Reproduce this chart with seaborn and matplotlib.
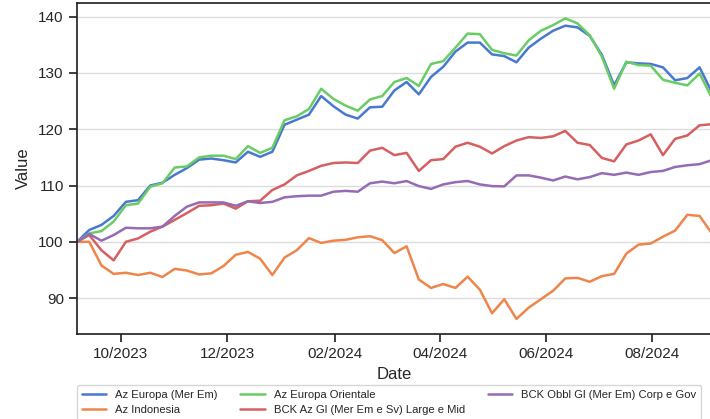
"""Weekly rebased performance of five funds (Sep 2023 - Sep 2024)."""

import matplotlib

matplotlib.use("Agg")
import matplotlib.pyplot as plt  # noqa: E402
import matplotlib.dates as mdates  # noqa: E402
import pandas as pd
import seaborn as sns

dates = pd.date_range("2023-09-06", periods=53, freq="7D")

fund_names = [
    "Az Europa (Mer Em)",
    "Az Indonesia",
    "Az Europa Orientale",
    "BCK Az Gl (Mer Em e Sv) Large e Mid",
    "BCK Obbl Gl (Mer Em) Corp e Gov",
]

europa_mer_em = [
    100.0, 102.1, 103.0, 104.6, 107.1, 107.4, 110.0, 110.5, 111.9, 113.1,
    114.6, 114.8, 114.5, 114.1, 116.0, 115.1, 116.0, 120.8, 121.7, 122.6,
    125.9, 124.1, 122.6, 121.9, 123.9, 124.0, 126.9, 128.4, 126.2, 129.3,
    131.1, 133.8, 135.4, 135.4, 133.3, 133.0, 131.9, 134.5, 136.1, 137.5,
    138.4, 138.1, 136.6, 133.2, 127.8, 131.9, 131.7, 131.6, 131.0, 128.7,
    129.1, 131.0, 126.6,
]
indonesia = [
    100.0, 100.0, 95.8, 94.3, 94.5, 94.1, 94.5, 93.75, 95.2, 94.9,
    94.2, 94.4, 95.7, 97.7, 98.2, 97.0, 94.1, 97.2, 98.5, 100.65,
    99.8, 100.2, 100.35, 100.8, 101.0, 100.3, 98.0, 99.2, 93.3, 91.8,
    92.5, 91.8, 93.8, 91.5, 87.3, 89.8, 86.3, 88.3, 89.8, 91.3,
    93.5, 93.6, 92.9, 93.9, 94.3, 97.9, 99.5, 99.7, 100.9, 102.0,
    104.8, 104.6, 101.5,
]
europa_orientale = [
    100.0, 101.5, 101.9, 103.6, 106.5, 106.8, 109.8, 110.4, 113.2, 113.4,
    115.0, 115.3, 115.3, 114.7, 117.0, 115.8, 116.7, 121.6, 122.3, 123.6,
    127.2, 125.4, 124.2, 123.3, 125.3, 125.9, 128.4, 129.1, 127.7, 131.6,
    132.1, 134.5, 137.0, 136.9, 134.1, 133.5, 133.1, 135.8, 137.5, 138.5,
    139.7, 138.8, 136.7, 132.9, 127.2, 132.0, 131.4, 131.3, 128.8, 128.25,
    127.8, 129.9, 125.6,
]
bck_large_mid = [
    100.0, 101.2, 98.5, 96.7, 100.0, 100.6, 101.8, 102.7, 103.9, 105.1,
    106.4, 106.5, 106.8, 105.9, 107.2, 107.3, 109.2, 110.2, 111.8, 112.6,
    113.5, 114.0, 114.1, 114.0, 116.2, 116.7, 115.4, 115.8, 112.6, 114.5,
    114.7, 116.9, 117.6, 116.9, 115.7, 117.0, 118.0, 118.6, 118.45, 118.75,
    119.7, 117.6, 117.2, 114.9, 114.3, 117.3, 118.0, 119.1, 115.4, 118.3,
    118.9, 120.7, 120.9,
]
bck_obbl = [
    100.0, 101.4, 100.2, 101.2, 102.5, 102.4, 102.4, 102.7, 104.6, 106.25,
    107.0, 107.0, 107.0, 106.4, 107.2, 106.9, 107.1, 107.9, 108.1, 108.2,
    108.2, 108.9, 109.05, 108.9, 110.4, 110.7, 110.4, 110.8, 109.9, 109.4,
    110.2, 110.6, 110.8, 110.2, 109.9, 109.85, 111.8, 111.8, 111.4, 110.9,
    111.6, 111.1, 111.5, 112.2, 111.9, 112.3, 111.9, 112.4, 112.6, 113.3,
    113.6, 113.8, 114.5,
]

series = [europa_mer_em, indonesia, europa_orientale, bck_large_mid, bck_obbl]
df = pd.concat(
    [pd.DataFrame({"Date": dates, "Value": vals, "Fund": name})
     for name, vals in zip(fund_names, series)],
    ignore_index=True,
)

sns.set_theme(style="ticks", context="notebook")
plt.rcParams["font.family"] = ["Liberation Sans", "DejaVu Sans"]

fig = plt.figure(figsize=(7.1, 4.19), dpi=100)
ax = fig.add_axes([0.1085, 0.203, 0.894, 0.789])

palette = dict(zip(fund_names, sns.color_palette("muted", 5)))
sns.lineplot(data=df, x="Date", y="Value", hue="Fund", hue_order=fund_names,
             palette=palette, linewidth=1.8, ax=ax)

ax.set_xlim(dates[0], dates[-1])
ax.grid(axis="y", color="#dcdcdc", linewidth=1)
ax.xaxis.set_major_locator(mdates.MonthLocator(bymonth=[2, 4, 6, 8, 10, 12]))
ax.xaxis.set_major_formatter(mdates.DateFormatter("%m/%Y"))
ax.yaxis.labelpad = 5

handles, labels = ax.get_legend_handles_labels()
ax.legend(handles, labels, ncol=3, loc="upper left", bbox_to_anchor=(0, -0.155),
          borderaxespad=0, fontsize=8.1, frameon=True, handlelength=2.2,
          columnspacing=2.0)

fig.savefig("out.png", dpi=100)
